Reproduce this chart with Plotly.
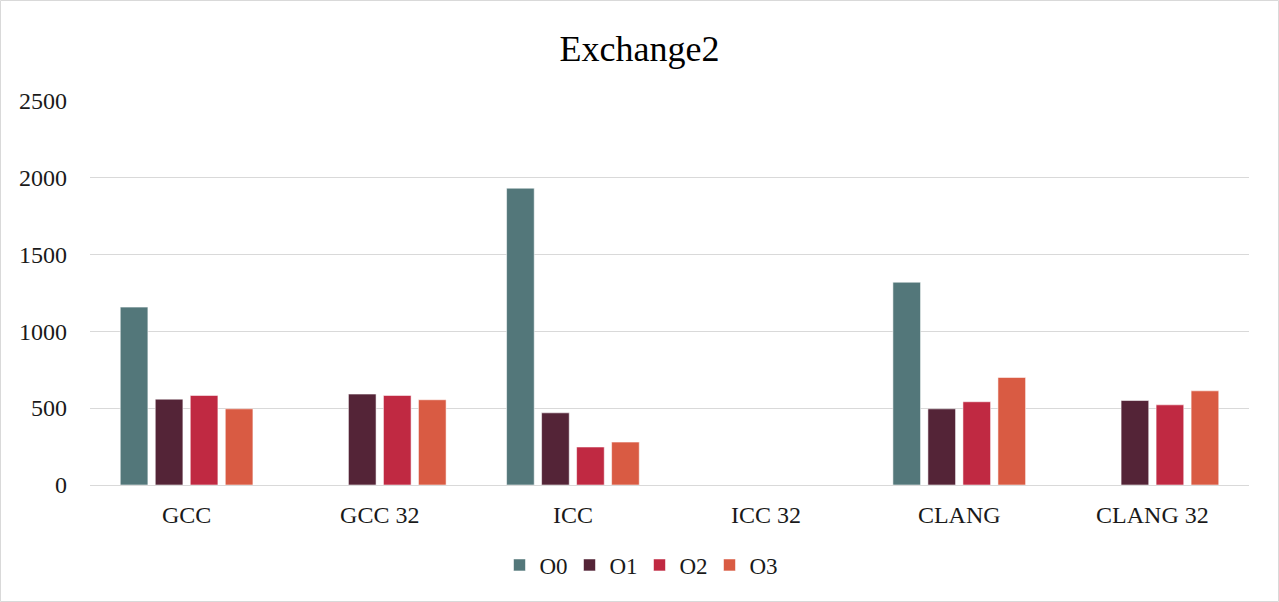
import plotly.graph_objects as go

# Benchmark timings for Exchange2 per compiler and optimisation level
compilers = ["GCC", "GCC 32", "ICC", "ICC 32", "CLANG", "CLANG 32"]
o0 = [1156, None, 1929, None, 1318, None]
o1 = [558, 591, 469, None, 495, 549]
o2 = [582, 582, 247, None, 541, 521]
o3 = [495, 554, 279, None, 699, 612]
series_names = ["O0", "O1", "O2", "O3"]
y_ticks = [0, 500, 1000, 1500, 2000, 2500]

colors = ["#53777A", "#542437", "#C02942", "#D95B43"]
font_family = "Liberation Serif, Times New Roman, serif"

W, H = 1279, 602
ML, MR, MT, MB = 90, 30, 100, 117

fig = go.Figure()
for name, vals, col in zip(series_names, [o0, o1, o2, o3], colors):
    fig.add_trace(go.Bar(
        x=compilers, y=vals, name=name,
        marker=dict(color=col, line=dict(color="rgba(255,255,255,0.55)", width=1)),
    ))

# outer chart border, expressed in paper coordinates of the plot area
pw, ph = W - ML - MR, H - MT - MB
bx0 = (0.5 - ML) / pw
bx1 = (W - 0.5 - ML) / pw
by0 = -(MB - 0.5) / ph
by1 = 1 + (MT - 0.5) / ph

fig.update_layout(
    width=W, height=H,
    margin=dict(l=ML, r=MR, t=MT, b=MB),
    paper_bgcolor="white", plot_bgcolor="white",
    font=dict(family=font_family, color="#1a1a1a", size=24),
    title=dict(text="Exchange2", x=0.5, xref="container", xanchor="center",
               y=1 - 48 / H, yref="container", yanchor="middle",
               font=dict(family=font_family, size=36, color="#000000")),
    barmode="group", bargap=0.275, bargroupgap=0.21,
    legend=dict(orientation="h", x=0.5, xanchor="center", xref="container",
                y=1 - 565 / H, yref="container", yanchor="middle",
                font=dict(family=font_family, size=23, color="#1a1a1a"),
                itemwidth=30, traceorder="normal",
                entrywidth=25, entrywidthmode="pixels"),
    shapes=[dict(type="rect", xref="paper", yref="paper",
                 x0=bx0, x1=bx1, y0=by0, y1=by1,
                 line=dict(color="#d9d9d9", width=1), layer="below")],
)
fig.update_yaxes(range=[0, 2502], tickvals=y_ticks, showgrid=True,
                 gridcolor="#d9d9d9", gridwidth=1.3, zeroline=False,
                 showline=False, ticks="", ticklabelstandoff=22,
                 tickfont=dict(family=font_family, size=24, color="#1a1a1a"))
fig.update_xaxes(showline=True, linecolor="#d9d9d9", linewidth=1.3, ticks="",
                 ticklabelstandoff=8,
                 tickfont=dict(family=font_family, size=24, color="#1a1a1a"))

fig.write_html("out.html")
